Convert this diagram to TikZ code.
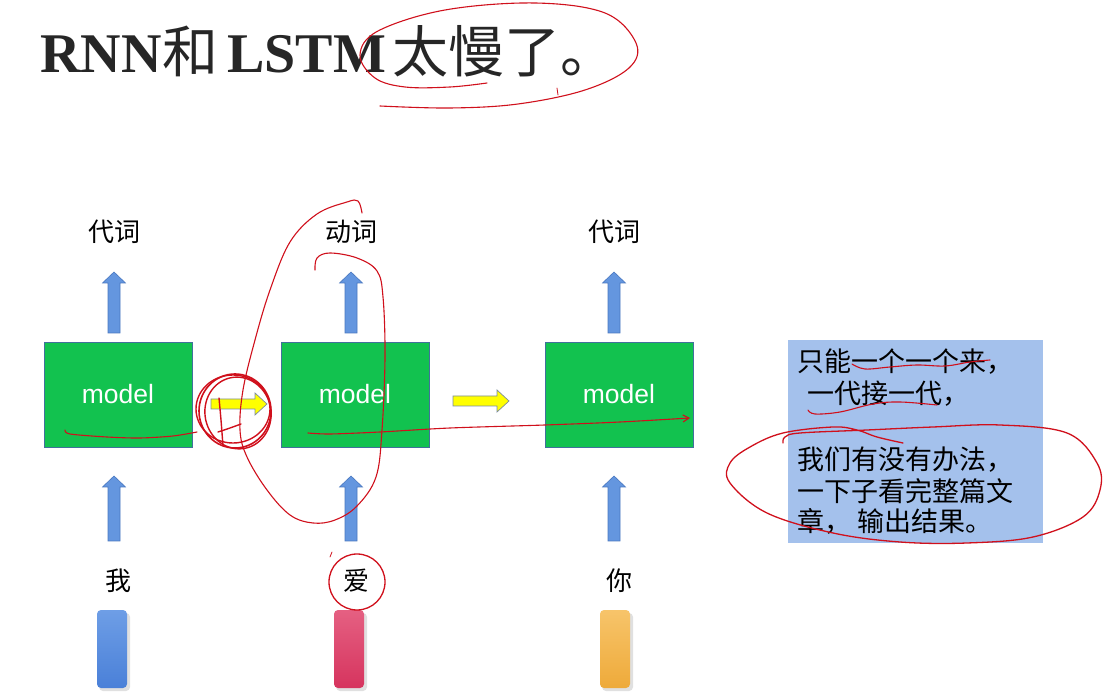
\documentclass[tikz,border=0pt]{standalone}
\usepackage{fontspec}
\setmainfont{Liberation Sans}
\newfontfamily\cjk{Noto Sans CJK SC}
\newfontfamily\serifb{Liberation Serif}
\usetikzlibrary{arrows.meta}
\definecolor{modelgreen}{HTML}{12C24F}
\definecolor{boxedge}{HTML}{41719C}
\definecolor{arrowblue}{HTML}{6496DF}
\definecolor{arrowedge}{HTML}{4A78C0}
\definecolor{yelfill}{HTML}{FFFF00}
\definecolor{yeledge}{HTML}{7C8CA0}
\definecolor{panelblue}{HTML}{A4C1EC}
\definecolor{pen}{HTML}{D0101C}
\definecolor{titlegray}{HTML}{262626}
\definecolor{barAt}{HTML}{6E9EE6}\definecolor{barAb}{HTML}{4A80D8}
\definecolor{barBt}{HTML}{E56082}\definecolor{barBb}{HTML}{D6345E}
\definecolor{barCt}{HTML}{F7C46A}\definecolor{barCb}{HTML}{EEAA3A}
\newcommand\blkup[3]{% x, ytip, ybottom
  \draw[uparr] (#1-6,#3) -- (#1-6,#2+11) -- (#1-11.5,#2+11) -- (#1,#2) -- (#1+11.5,#2+11) -- (#1+6,#2+11) -- (#1+6,#3) -- cycle;}
\newcommand\blkright[3]{% xtail, xtip, y
  \draw[rightarr] (#1,#3-5) -- (#2-12,#3-5) -- (#2-12,#3-11) -- (#2,#3) -- (#2-12,#3+11) -- (#2-12,#3+5) -- (#1,#3+5) -- cycle;}
\begin{document}
\begin{tikzpicture}[x=1pt,y=-1pt,
  modelbox/.style={draw=boxedge, line width=0.8pt, fill=modelgreen, minimum width=148pt, minimum height=105pt, inner sep=0pt, text=white, font=\fontsize{26.5}{30}\selectfont},
  lbl/.style={inner sep=0pt, font=\cjk\fontsize{26}{30}\selectfont},
  paneltext/.style={inner sep=0pt, anchor=west, font=\cjk\fontsize{27}{30}\selectfont},
  titlelat/.style={anchor=base west, inner sep=0pt, text=titlegray, font=\serifb\bfseries\fontsize{56}{60}\selectfont},
  titlecjk/.style={anchor=base west, inner sep=0pt, text=titlegray, font=\cjk\fontsize{56}{60}\selectfont},
  uparr/.style={draw=arrowedge, fill=arrowblue, line width=0.6pt},
  rightarr/.style={draw=yeledge, fill=yelfill, line width=0.7pt},
  bar/.style={minimum width=30pt, minimum height=78pt, rounded corners=4pt, inner sep=0pt},
  redpen/.style={draw=pen, line width=1.1pt, line cap=round, line join=round},
]
\useasboundingbox[fill=white] (0,0) rectangle (1112,700);

% title
\node[titlelat] (ti1) at (40,73) {RNN};
\node[titlecjk] (ti2) at (162,73) {和};
\node[titlelat] (ti3) at (227,73) {LSTM};
\node[titlecjk] (ti4) at (392,73) {太慢了。};

% model boxes
\node[modelbox] (m1) at (118,394.5) {model};
\node[modelbox] (m2) at (355,394.5) {model};
\node[modelbox] (m3) at (619,394.5) {model};

% output labels
\node[lbl] (o1) at (114,232) {代词};
\node[lbl] (o2) at (351,232) {动词};
\node[lbl] (o3) at (614,232) {代词};

% input labels
\node[lbl] (i1) at (118,581) {我};
\node[lbl] (i2) at (356,581) {爱};
\node[lbl] (i3) at (619,581) {你};

% up arrows
\blkup{114}{272}{333}
\blkup{351}{272}{333}
\blkup{614}{272}{333}
\blkup{114}{476}{541}
\blkup{351}{476}{541}
\blkup{614}{476}{541}

% yellow arrows
\blkright{211}{267}{404}
\blkright{453}{509}{401}

% word vectors
\fill[black!12, rounded corners=4pt] (99,613) rectangle (130,691);
\fill[black!12, rounded corners=4pt] (336,613) rectangle (367,691);
\fill[black!12, rounded corners=4pt] (602,613) rectangle (633,691);
\node[bar, top color=barAt, bottom color=barAb] (v1) at (112,649) {};
\node[bar, top color=barBt, bottom color=barBb] (v2) at (349,649) {};
\node[bar, top color=barCt, bottom color=barCb] (v3) at (615,649) {};

% text panel
\node[fill=panelblue, minimum width=255pt, minimum height=203pt, inner sep=0pt, anchor=north west] (panel) at (788,340) {};
\node[paneltext] (t1) at (797,362) {只能一个一个来，};
\node[paneltext] (t2) at (807,394) {一代接一代，};
\node[paneltext] (t3) at (797,460) {我们有没有办法，};
\node[paneltext] (t4) at (797,491) {一下子看完整篇文};
\node[paneltext] (t5) at (797,521) {章， 输出结果。};

% ---- red hand annotations ----
\draw[redpen] plot[smooth, tension=0.6] coordinates {(487,83) (450,87) (405,87) (375,78) (360,55) (378,31) (445,10) (535,3) (605,13) (636,43) (629,68) (585,90) (518,104) (450,108) (380,106)};
\draw[redpen, line width=0.8pt] (557,88) -- (558,95);

\draw[redpen] plot[smooth, tension=0.6] coordinates {(362,213) (358,201) (347,202) (317,214) (290,242) (270,290) (255,340) (243,390) (240,430) (247,457) (267,490) (290,515) (313,523) (335,520) (357,506) (376,477) (382,430) (385,357) (383,297) (377,271) (357,258) (330,253) (317,258) (315,270)};

\draw[redpen, line width=1.6pt] (235,411) ellipse [x radius=36pt, y radius=37pt];
\draw[redpen, line width=1.4pt, rotate around={12:(238,413)}] (238,413) ellipse [x radius=33pt, y radius=36pt];
\draw[redpen, line width=1.4pt] (233,409) ellipse [x radius=37pt, y radius=34pt];
\draw[redpen, line width=1.4pt] plot[smooth] coordinates {(219,398) (221,420) (223,446)};
\draw[redpen, line width=1.4pt] plot[smooth] coordinates {(218,432) (230,428) (241,424)};

\draw[redpen] plot[smooth] coordinates {(65,430) (70,434) (107,437) (140,438) (173,436) (197,432)};
\draw[redpen, -{Straight Barb[length=6pt,width=7pt]}] plot[smooth] coordinates {(308,433) (330,434) (380,432) (450,428) (545,425) (620,422) (690,418)};

\draw[redpen, line width=1.3pt] (357,582) ellipse [x radius=28pt, y radius=28pt];
\draw[redpen, line width=0.8pt] (330,557) -- (332,552);

\draw[redpen] plot[smooth, tension=0.6] coordinates {(852,364) (865,369) (890,367) (917,365) (945,366) (970,362) (990,360)};
\draw[redpen] plot[smooth, tension=0.6] coordinates {(808,410) (815,414) (840,412) (873,404) (900,402) (937,405)};

\draw[redpen, line width=1.3pt] plot[smooth, tension=0.6] coordinates {(783,443) (785,437) (800,433) (867,430) (933,427) (1000,425) (1067,433) (1097,463) (1100,490) (1083,517) (1033,537) (967,543) (900,542) (833,533) (767,513) (730,483) (730,463) (750,447) (783,433) (833,427) (857,430) (877,437) (903,443)};
\end{tikzpicture}
\end{document}
